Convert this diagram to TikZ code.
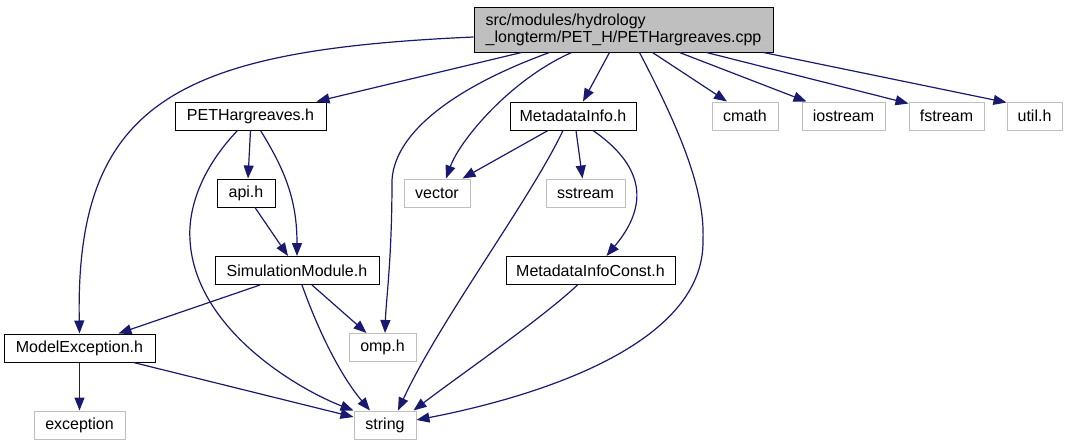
\documentclass[tikz,border=0pt]{standalone}
\usepackage{fontspec}
\setmainfont{Liberation Sans}
\usetikzlibrary{arrows.meta,calc}
\definecolor{edgec}{HTML}{191970}
\definecolor{graybd}{HTML}{BFBFBF}
\definecolor{topfill}{HTML}{BFBFBF}
\begin{document}
\begin{tikzpicture}[x=1pt,y=-1pt,
  box/.style={draw=black, fill=white, line width=1pt, inner sep=0pt, minimum height=28pt, font=\fontsize{16}{17}\selectfont},
  sys/.style={box, draw=graybd},
  dep/.style={draw=edgec, line width=1.2pt, -{Triangle[length=13pt,width=10pt]}},
]
\useasboundingbox (0,0) rectangle (1069,445);

\node[box, fill=topfill, minimum width=299pt, minimum height=45pt, align=left] (top) at (623.5,29.5) {src/modules/hydrology\\\_longterm/PET\_H/PETHargreaves.cpp};
\node[box, minimum width=151pt] (pet) at (250.5,116) {PETHargreaves.h};
\node[box, minimum width=58pt] (api) at (246,193) {api.h};
\node[box, minimum width=164pt] (sim) at (297,270.5) {SimulationModule.h};
\node[box, minimum width=151pt] (mex) at (79.5,348) {ModelException.h};
\node[sys, minimum width=91pt] (exc) at (79.5,425) {exception};
\node[sys, minimum width=62pt] (str) at (385,425) {string};
\node[sys, minimum width=67pt] (omp) at (382.5,347.5) {omp.h};
\node[sys, minimum width=66pt] (vec) at (437,193) {vector};
\node[sys, minimum width=79pt] (sst) at (585.5,193) {sstream};
\node[box, minimum width=126pt] (mdi) at (573,116) {MetadataInfo.h};
\node[box, minimum width=169pt] (mdc) at (590.5,270.5) {MetadataInfoConst.h};
\node[sys, minimum width=66pt] (cmath) at (745,116) {cmath};
\node[sys, minimum width=83pt] (ios) at (843.5,116) {iostream};
\node[sys, minimum width=75pt] (fst) at (946.5,116) {fstream};
\node[sys, minimum width=55pt] (util) at (1034.5,116) {util.h};

% from top
\draw[dep] ($(top.west)+(0,7.5)$) .. controls (180,50) and (75,100) .. (mex.north);
\draw[dep] ($(top.south west)+(48,0)$) -- ($(pet.north east)+(-10,0)$);
\draw[dep] ($(top.south west)+(76,0)$) .. controls (460,85) and (395,130) .. (392,180) .. controls (392,260) and (386,300) .. ($(omp.north)+(2.5,0)$);
\draw[dep] ($(top.south west)+(98,0)$) .. controls (510,80) and (460,140) .. ($(vec.north)+(9,0)$);
\draw[dep] ($(top.south west)+(136,0)$) -- ($(mdi.north)+(10,0)$);
\draw[dep] ($(top.south west)+(166,0)$) .. controls (680,130) and (705,190) .. (703,240) .. controls (705,350) and (520,400) .. ($(str.east)+(0,-5)$);
\draw[dep] ($(top.south west)+(179,0)$) -- ($(cmath.north)+(-18,0)$);
\draw[dep] ($(top.south west)+(206,0)$) -- ($(ios.north west)+(5,0)$);
\draw[dep] ($(top.south west)+(233,0)$) -- ($(fst.north west)+(0,2)$);
\draw[dep] ($(top.south east)+(-10,0)$) -- ($(util.north west)+(0,1)$);

% from PETHargreaves.h
\draw[dep] (pet.south) -- ($(api.north)+(2,0)$);
\draw[dep] ($(pet.south)+(10,0)$) .. controls (285,170) and (297,200) .. (sim.north);
\draw[dep] ($(pet.south)+(-13,0)$) .. controls (200,170) and (188,210) .. (190,240) .. controls (195,330) and (300,390) .. (str.north west);

% api, sim
\draw[dep] ($(api.south)+(9,0)$) -- ($(sim.north)+(-9,0)$);
\draw[dep] ($(sim.south)+(-37,0)$) -- ($(mex.north east)+(-37,0)$);
\draw[dep] ($(sim.south)+(15,0)$) -- ($(omp.north west)+(18,0)$);
\draw[dep] ($(sim.south)+(5,0)$) .. controls (318,330) and (340,375) .. ($(str.north)+(-15,0)$);

% ModelException
\draw[dep] (mex.south) -- (exc.north);
\draw[dep] ($(mex.south)+(54,0)$) -- ($(str.west)+(0,-8)$);

% MetadataInfo
\draw[dep] ($(mdi.south)+(-25,0)$) -- ($(vec.north east)+(-8,0)$);
\draw[dep] ($(mdi.south)+(3,0)$) -- ($(sst.north)+(-3,0)$);
\draw[dep] ($(mdi.south)+(20,0)$) .. controls (650,170) and (645,210) .. ($(mdc.north)+(16,0)$);
\draw[dep] ($(mdi.south)+(-10,0)$) .. controls (530,200) and (440,320) .. ($(str.north)+(13,0)$);

% MetadataInfoConst
\draw[dep] ($(mdc.south)+(-13,0)$) .. controls (540,320) and (460,375) .. ($(str.north east)+(-3,0)$);
\end{tikzpicture}
\end{document}
